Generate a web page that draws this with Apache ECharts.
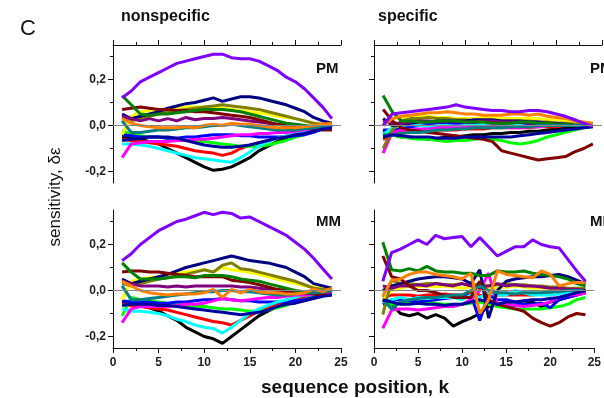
<!DOCTYPE html>
<html>
<head>
<meta charset="utf-8">
<script src="https://cdn.jsdelivr.net/npm/echarts@6/dist/echarts.min.js"></script>
<style>
  html, body { margin: 0; padding: 0; background: #fff; }
  #chart { width: 604px; height: 398px; }
</style>
</head>
<body>
<div id="chart"></div>
<script>
// sequence position k
const positions = [1, 2, 3, 4, 5, 6, 7, 8, 9, 10, 11, 12, 13, 14, 15, 16, 17, 18, 19, 20, 21, 22, 23, 24]

// one colour per curve, same order as the rows of every panel below
const lineColors = [
  '#000000', '#ff0000', '#00ff00', '#0000ff', '#00ffff', '#ff00ff', '#ffff00', '#808000',
  '#000080', '#800080', '#800000', '#008000', '#008080', '#0000a0', '#ff8000', '#8000ff',
]

const xTickValues = [0, 5, 10, 15, 20, 25]
const yLabelValues = [-0.2, 0, 0.2]
const yMinorValues = [-0.1, 0.1, 0.3]

const nonspecificPM = [
  [-0.05, -0.055, -0.06, -0.07, -0.08, -0.1, -0.12, -0.14, -0.16, -0.18, -0.195, -0.19, -0.18, -0.16, -0.14, -0.11, -0.09, -0.07, -0.055, -0.04, -0.03, -0.02, -0.01, 0.0],
  [-0.06, -0.065, -0.07, -0.075, -0.08, -0.085, -0.09, -0.1, -0.11, -0.115, -0.12, -0.13, -0.12, -0.1, -0.085, -0.075, -0.065, -0.055, -0.045, -0.035, -0.025, -0.02, -0.01, 0.0],
  [-0.02, -0.04, -0.045, -0.05, -0.05, -0.055, -0.06, -0.065, -0.07, -0.07, -0.075, -0.08, -0.085, -0.09, -0.09, -0.09, -0.085, -0.075, -0.065, -0.05, -0.04, -0.025, -0.015, 0.0],
  [-0.04, -0.045, -0.05, -0.05, -0.05, -0.055, -0.055, -0.05, -0.05, -0.045, -0.04, -0.04, -0.04, -0.045, -0.045, -0.05, -0.05, -0.05, -0.05, -0.045, -0.04, -0.03, -0.015, 0.0],
  [-0.08, -0.08, -0.085, -0.09, -0.1, -0.11, -0.12, -0.13, -0.14, -0.145, -0.15, -0.155, -0.16, -0.14, -0.115, -0.09, -0.07, -0.055, -0.045, -0.035, -0.025, -0.02, -0.01, -0.005],
  [-0.14, -0.08, -0.075, -0.07, -0.07, -0.07, -0.065, -0.065, -0.06, -0.06, -0.055, -0.05, -0.045, -0.04, -0.04, -0.035, -0.035, -0.03, -0.03, -0.025, -0.02, -0.015, -0.01, -0.005],
  [-0.04, 0.04, 0.06, 0.065, 0.07, 0.07, 0.075, 0.08, 0.08, 0.08, 0.08, 0.075, 0.07, 0.065, 0.06, 0.055, 0.05, 0.04, 0.035, 0.03, 0.02, 0.01, 0.005, 0.0],
  [0.03, 0.02, 0.03, 0.04, 0.05, 0.06, 0.065, 0.07, 0.075, 0.08, 0.085, 0.09, 0.085, 0.08, 0.075, 0.07, 0.06, 0.05, 0.04, 0.03, 0.02, 0.01, 0.005, 0.0],
  [0.05, 0.03, 0.04, 0.05, 0.06, 0.075, 0.085, 0.095, 0.1, 0.11, 0.12, 0.105, 0.115, 0.125, 0.125, 0.12, 0.11, 0.1, 0.09, 0.075, 0.06, 0.035, 0.02, 0.01],
  [0.04, 0.03, 0.02, 0.03, 0.02, 0.03, 0.02, 0.035, 0.025, 0.03, 0.03, 0.035, 0.03, 0.025, 0.02, 0.015, 0.01, 0.005, 0.0, 0.0, -0.005, -0.005, 0.0, 0.0],
  [0.07, 0.075, 0.08, 0.075, 0.07, 0.07, 0.065, 0.065, 0.06, 0.06, 0.055, 0.05, 0.045, 0.04, 0.035, 0.025, 0.015, 0.005, 0.0, -0.005, -0.01, -0.015, -0.02, -0.02],
  [0.13, 0.09, 0.05, 0.045, 0.05, 0.05, 0.055, 0.06, 0.065, 0.07, 0.07, 0.07, 0.065, 0.06, 0.05, 0.04, 0.03, 0.02, 0.01, 0.005, 0.0, -0.005, 0.0, 0.0],
  [0.02, -0.03, -0.03, -0.025, -0.02, -0.02, -0.015, -0.01, -0.01, -0.005, 0.0, 0.0, 0.005, 0.0, -0.005, -0.01, -0.015, -0.02, -0.02, -0.02, -0.015, -0.01, -0.005, 0.0],
  [-0.065, -0.06, -0.055, -0.05, -0.05, -0.05, -0.055, -0.065, -0.075, -0.085, -0.09, -0.095, -0.095, -0.09, -0.085, -0.075, -0.065, -0.055, -0.05, -0.04, -0.035, -0.025, -0.015, -0.01],
  [0.03, 0.01, 0.0, -0.005, -0.01, -0.01, -0.01, -0.005, -0.01, 0.0, 0.005, 0.0, 0.01, 0.005, 0.005, 0.0, -0.005, -0.01, -0.01, -0.01, -0.005, 0.0, 0.005, 0.01],
  [0.12, 0.15, 0.19, 0.21, 0.23, 0.25, 0.27, 0.28, 0.29, 0.3, 0.31, 0.31, 0.295, 0.29, 0.29, 0.28, 0.26, 0.24, 0.21, 0.19, 0.16, 0.12, 0.08, 0.03],
]

const nonspecificMM = [
  [-0.05, -0.06, -0.065, -0.075, -0.09, -0.11, -0.13, -0.16, -0.18, -0.2, -0.21, -0.23, -0.2, -0.17, -0.14, -0.11, -0.09, -0.07, -0.055, -0.045, -0.035, -0.025, -0.015, -0.005],
  [-0.06, -0.065, -0.07, -0.075, -0.08, -0.085, -0.095, -0.105, -0.115, -0.125, -0.135, -0.14, -0.15, -0.13, -0.11, -0.09, -0.075, -0.06, -0.05, -0.04, -0.03, -0.02, -0.01, 0.0],
  [-0.11, -0.03, -0.04, -0.045, -0.05, -0.055, -0.06, -0.065, -0.07, -0.07, -0.075, -0.08, -0.08, -0.085, -0.09, -0.09, -0.085, -0.075, -0.065, -0.05, -0.04, -0.025, -0.015, 0.0],
  [-0.045, -0.05, -0.05, -0.05, -0.055, -0.055, -0.05, -0.05, -0.045, -0.04, -0.04, -0.035, -0.04, -0.045, -0.045, -0.05, -0.05, -0.05, -0.05, -0.045, -0.04, -0.03, -0.015, 0.0],
  [-0.08, -0.09, -0.09, -0.095, -0.1, -0.11, -0.125, -0.135, -0.15, -0.16, -0.165, -0.185, -0.16, -0.13, -0.1, -0.08, -0.065, -0.05, -0.04, -0.03, -0.02, -0.015, -0.01, -0.005],
  [-0.14, -0.08, -0.07, -0.07, -0.07, -0.07, -0.065, -0.06, -0.06, -0.055, -0.045, -0.035, -0.04, -0.045, -0.04, -0.035, -0.03, -0.03, -0.025, -0.02, -0.02, -0.015, -0.01, -0.005],
  [-0.04, 0.04, 0.05, 0.055, 0.06, 0.07, 0.075, 0.08, 0.085, 0.09, 0.08, 0.1, 0.09, 0.085, 0.08, 0.07, 0.06, 0.05, 0.04, 0.03, 0.02, 0.015, 0.01, 0.005],
  [0.03, 0.02, 0.03, 0.04, 0.05, 0.055, 0.065, 0.07, 0.08, 0.09, 0.08, 0.11, 0.12, 0.095, 0.09, 0.08, 0.07, 0.06, 0.05, 0.04, 0.025, 0.01, 0.005, 0.0],
  [0.05, 0.03, 0.04, 0.05, 0.06, 0.07, 0.085, 0.1, 0.11, 0.12, 0.13, 0.14, 0.15, 0.14, 0.13, 0.125, 0.12, 0.11, 0.1, 0.08, 0.06, 0.03, 0.02, 0.01],
  [0.04, 0.03, 0.02, 0.02, 0.02, 0.015, 0.02, 0.015, 0.02, 0.02, 0.02, 0.02, 0.02, 0.015, 0.015, 0.01, 0.005, 0.0, -0.005, -0.01, -0.01, -0.01, -0.005, 0.0],
  [0.08, 0.085, 0.085, 0.08, 0.08, 0.075, 0.07, 0.065, 0.06, 0.06, 0.06, 0.06, 0.045, 0.04, 0.035, 0.025, 0.015, 0.005, 0.0, -0.005, -0.01, -0.015, -0.02, -0.02],
  [0.12, 0.08, 0.05, 0.05, 0.05, 0.055, 0.06, 0.06, 0.055, 0.065, 0.065, 0.065, 0.06, 0.05, 0.045, 0.04, 0.03, 0.02, 0.01, 0.0, -0.005, -0.01, -0.005, 0.0],
  [0.02, -0.04, -0.04, -0.035, -0.03, -0.025, -0.02, -0.015, -0.01, -0.005, -0.005, 0.0, 0.0, -0.005, -0.005, -0.01, -0.015, -0.02, -0.02, -0.015, -0.01, -0.01, -0.005, 0.0],
  [-0.065, -0.06, -0.06, -0.06, -0.065, -0.065, -0.07, -0.075, -0.08, -0.085, -0.09, -0.095, -0.1, -0.105, -0.1, -0.095, -0.085, -0.07, -0.06, -0.055, -0.045, -0.035, -0.025, -0.02],
  [0.04, 0.02, 0.0, -0.01, -0.015, -0.02, -0.015, -0.015, -0.015, -0.01, 0.005, -0.03, 0.005, -0.01, 0.005, -0.005, -0.01, -0.01, -0.015, -0.015, -0.01, 0.005, -0.005, 0.01],
  [0.13, 0.16, 0.2, 0.23, 0.26, 0.28, 0.3, 0.31, 0.325, 0.34, 0.33, 0.34, 0.335, 0.315, 0.32, 0.3, 0.28, 0.26, 0.24, 0.21, 0.18, 0.14, 0.095, 0.05],
]

const specificPM = [
  [-0.02, -0.04, -0.05, -0.05, -0.055, -0.06, -0.055, -0.05, -0.05, -0.045, -0.04, -0.04, -0.035, -0.035, -0.03, -0.03, -0.025, -0.025, -0.02, -0.015, -0.01, -0.01, -0.005, 0.0],
  [-0.06, -0.04, -0.03, -0.03, -0.025, -0.025, -0.02, -0.02, -0.02, -0.015, -0.015, -0.015, -0.01, -0.01, -0.01, -0.01, -0.01, -0.005, -0.005, -0.005, 0.0, 0.0, 0.0, 0.0],
  [-0.03, -0.04, -0.05, -0.055, -0.06, -0.06, -0.065, -0.07, -0.065, -0.065, -0.06, -0.055, -0.06, -0.065, -0.075, -0.08, -0.075, -0.065, -0.05, -0.04, -0.03, -0.02, -0.01, -0.005],
  [-0.02, -0.02, -0.01, -0.005, 0.0, 0.005, 0.005, 0.01, 0.01, 0.01, 0.01, 0.01, 0.01, 0.01, 0.005, 0.005, 0.005, 0.005, 0.0, 0.0, 0.0, 0.0, 0.0, 0.0],
  [-0.04, -0.01, 0.0, 0.005, 0.0, -0.005, 0.0, 0.0, -0.005, 0.0, 0.0, 0.005, 0.0, -0.005, 0.0, 0.0, -0.005, -0.005, 0.0, 0.0, 0.0, 0.0, 0.0, 0.0],
  [-0.12, -0.03, -0.02, -0.02, -0.015, -0.015, -0.01, -0.01, -0.01, -0.01, -0.005, -0.005, 0.0, -0.005, -0.01, -0.01, -0.005, -0.005, 0.0, 0.0, 0.0, 0.0, 0.0, 0.0],
  [0.02, 0.03, 0.035, 0.04, 0.04, 0.04, 0.035, 0.035, 0.03, 0.03, 0.03, 0.035, 0.035, 0.03, 0.03, 0.03, 0.03, 0.03, 0.025, 0.025, 0.02, 0.015, 0.01, 0.01],
  [-0.1, -0.02, 0.02, 0.03, 0.03, 0.035, 0.03, 0.03, 0.025, 0.025, 0.02, 0.02, 0.02, 0.02, 0.02, 0.02, 0.02, 0.015, 0.015, 0.01, 0.01, 0.005, 0.005, 0.0],
  [0.03, 0.0, 0.005, 0.01, 0.015, 0.015, 0.02, 0.02, 0.02, 0.02, 0.025, 0.025, 0.025, 0.02, 0.02, 0.02, 0.015, 0.015, 0.01, 0.01, 0.005, 0.0, 0.0, 0.0],
  [0.02, 0.01, 0.01, 0.015, 0.02, 0.02, 0.015, 0.02, 0.02, 0.015, 0.015, 0.02, 0.02, 0.015, 0.015, 0.015, 0.01, 0.01, 0.01, 0.005, 0.005, 0.0, 0.0, 0.0],
  [0.07, 0.02, -0.01, -0.02, -0.025, -0.03, -0.035, -0.04, -0.045, -0.05, -0.055, -0.06, -0.07, -0.11, -0.12, -0.13, -0.14, -0.15, -0.145, -0.14, -0.135, -0.115, -0.1, -0.08],
  [0.13, 0.06, 0.02, 0.02, 0.015, 0.015, 0.02, 0.02, 0.02, 0.015, 0.015, 0.015, 0.01, 0.01, 0.01, 0.015, 0.015, 0.01, 0.01, 0.005, 0.005, 0.0, 0.0, 0.0],
  [-0.04, -0.04, -0.035, -0.03, -0.03, -0.025, -0.02, -0.02, -0.015, -0.015, -0.01, -0.01, -0.01, -0.01, -0.005, -0.005, -0.005, 0.0, 0.0, 0.0, 0.0, 0.0, 0.0, 0.0],
  [-0.05, -0.04, -0.045, -0.05, -0.05, -0.05, -0.055, -0.055, -0.055, -0.05, -0.05, -0.05, -0.05, -0.05, -0.05, -0.045, -0.04, -0.035, -0.03, -0.025, -0.02, -0.015, -0.01, -0.005],
  [0.0, 0.03, 0.04, 0.045, 0.05, 0.055, 0.055, 0.06, 0.055, 0.05, 0.05, 0.045, 0.045, 0.045, 0.05, 0.05, 0.045, 0.05, 0.04, 0.035, 0.03, 0.02, 0.015, 0.01],
  [0.0, 0.05, 0.055, 0.06, 0.065, 0.07, 0.075, 0.08, 0.09, 0.08, 0.075, 0.07, 0.065, 0.065, 0.06, 0.06, 0.065, 0.065, 0.06, 0.05, 0.04, 0.025, 0.01, -0.005],
]

const specificMM = [
  [-0.04, -0.06, -0.1, -0.11, -0.1, -0.12, -0.105, -0.12, -0.155, -0.135, -0.12, -0.1, -0.07, -0.06, -0.06, -0.065, -0.06, -0.05, -0.07, -0.05, -0.04, -0.03, -0.02, -0.01],
  [-0.03, -0.02, -0.02, -0.02, -0.025, -0.02, -0.02, -0.015, -0.02, -0.02, -0.01, -0.02, -0.03, -0.02, -0.02, -0.02, -0.02, -0.02, -0.015, -0.01, -0.01, -0.01, -0.005, 0.0],
  [-0.04, -0.06, -0.055, -0.05, -0.05, -0.05, -0.055, -0.06, -0.06, -0.06, -0.055, -0.05, -0.06, -0.07, -0.075, -0.08, -0.08, -0.08, -0.08, -0.075, -0.07, -0.06, -0.04, -0.03],
  [-0.06, -0.04, -0.04, -0.045, -0.05, -0.045, -0.04, -0.035, -0.03, -0.03, -0.02, -0.13, -0.02, -0.04, -0.04, -0.05, -0.06, -0.06, -0.055, -0.075, -0.04, -0.03, -0.02, -0.005],
  [-0.05, -0.04, -0.03, -0.04, -0.03, -0.035, -0.03, -0.03, -0.03, -0.04, -0.02, -0.03, -0.01, -0.02, -0.02, 0.0, -0.01, -0.02, -0.02, -0.02, -0.015, -0.01, -0.005, 0.0],
  [-0.165, -0.085, -0.08, -0.08, -0.085, -0.08, -0.075, -0.07, -0.07, -0.06, -0.04, 0.0, 0.075, -0.06, -0.06, -0.065, -0.07, -0.065, -0.06, -0.05, -0.03, -0.02, -0.02, -0.01],
  [-0.04, 0.0, 0.01, 0.02, 0.015, 0.02, 0.015, 0.02, 0.015, 0.01, 0.015, 0.01, 0.015, 0.01, 0.015, 0.02, 0.015, 0.01, 0.01, 0.01, 0.005, 0.005, 0.0, 0.0],
  [-0.105, 0.045, 0.03, 0.03, 0.025, 0.03, 0.03, 0.025, 0.025, 0.03, 0.02, 0.03, 0.02, 0.025, 0.03, 0.025, 0.025, 0.02, 0.02, 0.015, 0.015, 0.01, 0.01, 0.01],
  [0.0, 0.02, 0.03, 0.04, 0.05, 0.055, 0.06, 0.06, 0.055, 0.05, 0.03, 0.09, -0.12, 0.0, 0.04, 0.05, 0.055, 0.06, 0.06, 0.065, 0.07, 0.06, 0.045, 0.03],
  [0.02, 0.01, 0.02, 0.02, 0.025, 0.02, 0.03, 0.025, 0.02, 0.03, 0.02, 0.01, 0.02, 0.03, 0.02, 0.025, 0.02, 0.02, 0.015, 0.01, 0.01, 0.005, 0.005, 0.0],
  [0.15, 0.06, 0.05, 0.02, 0.0, 0.0, -0.01, -0.02, -0.03, -0.03, -0.03, 0.04, -0.04, -0.06, -0.07, -0.08, -0.09, -0.12, -0.14, -0.155, -0.14, -0.115, -0.1, -0.105],
  [0.21, 0.09, 0.085, 0.095, 0.085, 0.105, 0.085, 0.08, 0.08, 0.075, 0.075, 0.065, 0.065, 0.085, 0.08, 0.08, 0.085, 0.075, 0.07, 0.065, 0.06, 0.05, 0.03, 0.02],
  [-0.04, -0.08, -0.05, -0.04, -0.035, -0.03, -0.03, -0.025, -0.02, -0.02, 0.0, 0.02, 0.0, -0.01, -0.01, -0.015, -0.01, -0.01, -0.01, -0.005, -0.005, 0.0, 0.0, 0.0],
  [-0.04, -0.05, -0.06, -0.06, -0.055, -0.06, -0.06, -0.065, -0.06, -0.06, -0.05, -0.04, -0.05, -0.06, -0.05, -0.05, -0.045, -0.04, -0.04, -0.035, -0.03, -0.02, -0.01, 0.0],
  [-0.025, 0.045, 0.05, 0.07, 0.08, 0.08, 0.07, 0.065, 0.06, 0.05, 0.075, -0.1, -0.04, 0.085, 0.07, 0.065, 0.06, 0.055, 0.085, 0.07, 0.02, 0.03, 0.035, 0.035],
  [0.04, 0.165, 0.18, 0.2, 0.22, 0.2, 0.24, 0.225, 0.23, 0.235, 0.19, 0.23, 0.19, 0.15, 0.17, 0.19, 0.19, 0.22, 0.2, 0.19, 0.185, 0.135, 0.085, 0.04],
]

const FONT = '"Liberation Sans", Arial, sans-serif'

const panels = [
  { rows: nonspecificPM, left: 113, top: 45, atTop: true, yLabels: true },
  { rows: specificPM, left: 374, top: 45, atTop: true, yLabels: false },
  { rows: nonspecificMM, left: 113, top: 210, atTop: false, yLabels: true },
  { rows: specificMM, left: 374, top: 210, atTop: false, yLabels: false },
]

const grid = []
const xAxis = []
const yAxis = []
const series = []

panels.forEach((p, g) => {
  grid.push({ left: p.left, top: p.top, width: 228, height: 138 })

  xAxis.push({
    type: 'value',
    gridIndex: g,
    position: p.atTop ? 'top' : 'bottom',
    min: 0,
    max: 25,
    interval: 5,
    axisLine: { show: true, onZero: false, lineStyle: { color: '#111', width: 1 } },
    axisTick: { show: true, length: 5, lineStyle: { color: '#111' } },
    minorTick: { show: true, splitNumber: 2, length: 3, lineStyle: { color: '#111' } },
    axisLabel: {
      show: !p.atTop,
      customValues: xTickValues,
      margin: 9,
      fontFamily: FONT,
      fontWeight: 'bold',
      fontSize: 12,
      color: '#222',
    },
    splitLine: { show: false },
  })

  // main y axis: line, long ticks, labels
  yAxis.push({
    type: 'value',
    gridIndex: g,
    position: 'left',
    min: -0.25,
    max: 0.35,
    axisLine: { show: true, onZero: false, lineStyle: { color: '#111', width: 1 } },
    axisTick: { show: true, length: 5, customValues: yLabelValues, lineStyle: { color: '#111' } },
    axisLabel: {
      show: p.yLabels,
      customValues: yLabelValues,
      margin: 7,
      fontFamily: FONT,
      fontWeight: 'bold',
      fontSize: 12,
      color: '#222',
      formatter: (v) => v.toFixed(1).replace('.', ','),
    },
    splitLine: { show: false },
  })
  // short ticks in between
  yAxis.push({
    type: 'value',
    gridIndex: g,
    position: 'left',
    min: -0.25,
    max: 0.35,
    axisLine: { show: false, onZero: false },
    axisTick: { show: true, length: 3, customValues: yMinorValues, lineStyle: { color: '#111' } },
    axisLabel: { show: false },
    splitLine: { show: false },
  })

  p.rows.forEach((vals, i) => {
    const s = {
      type: 'line',
      xAxisIndex: g,
      yAxisIndex: 2 * g,
      data: positions.map((k, j) => [k, vals[j]]),
      showSymbol: false,
      symbol: 'none',
      lineStyle: { color: lineColors[i], width: 3 },
      itemStyle: { color: lineColors[i] },
      animation: false,
      silent: true,
    }
    if (i === 0) {
      s.markLine = {
        silent: true,
        symbol: ['none', 'none'],
        label: { show: false },
        lineStyle: { color: '#888', width: 1, type: 'solid' },
        data: [{ yAxis: 0 }],
        animation: false,
      }
    }
    series.push(s)
  })
})

const textStyle = (size, weight) => ({ fontFamily: FONT, fontSize: size, fontWeight: weight, fill: '#111' })

const graphic = [
  { type: 'text', left: 20, top: 18, style: { text: 'C', ...textStyle(22, 'normal') } },
  { type: 'text', left: 121, top: 9, style: { text: 'nonspecific', ...textStyle(16, 'bold') } },
  { type: 'text', left: 378, top: 9, style: { text: 'specific', ...textStyle(16, 'bold') } },
  { type: 'text', left: 316, top: 61, style: { text: 'PM', ...textStyle(15, 'bold') } },
  { type: 'text', left: 590, top: 61, style: { text: 'PM', ...textStyle(15, 'bold') } },
  { type: 'text', left: 316, top: 214, style: { text: 'MM', ...textStyle(15, 'bold') } },
  { type: 'text', left: 590, top: 214, style: { text: 'MM', ...textStyle(15, 'bold') } },
  {
    type: 'text', x: 55, y: 197, rotation: Math.PI / 2,
    style: { text: 'sensitivity, δε', align: 'center', verticalAlign: 'middle', ...textStyle(17, 'normal') },
  },
  {
    type: 'text', x: 355, y: 388,
    style: { text: 'sequence position, k', align: 'center', verticalAlign: 'middle', ...textStyle(19, 'bold') },
  },
]

const chart = echarts.init(document.getElementById('chart'), null, { renderer: 'canvas' })
chart.setOption({
  animation: false,
  backgroundColor: '#fff',
  grid,
  xAxis,
  yAxis,
  series,
  graphic,
})
</script>
</body>
</html>
